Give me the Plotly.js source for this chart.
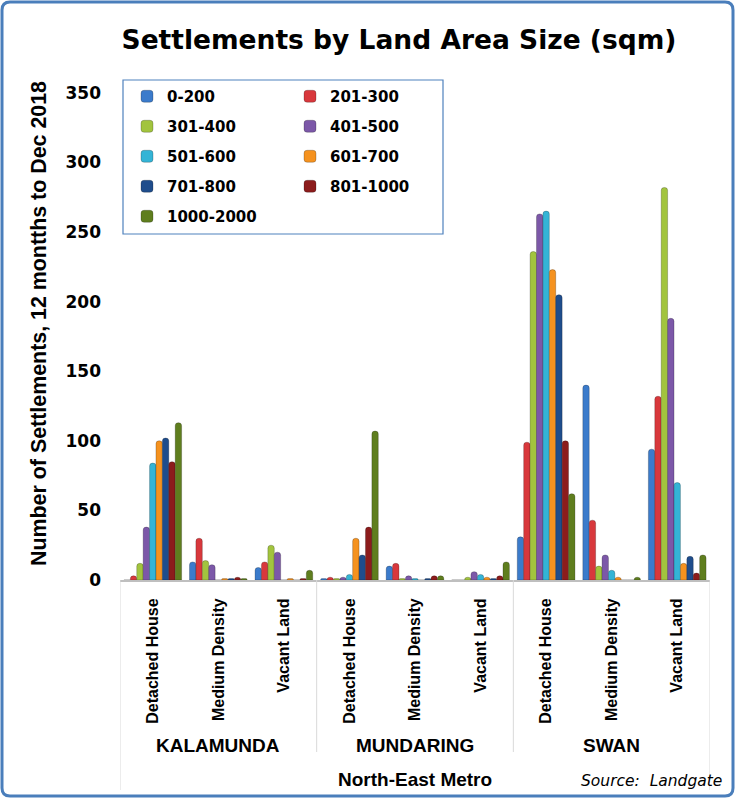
<!DOCTYPE html>
<html>
<head>
<meta charset="utf-8">
<script src="https://cdn.plot.ly/plotly-3.0.1.min.js"></script>
<style>
  html, body { margin: 0; padding: 0; background: #ffffff; }
  #chart { width: 735px; height: 798px; }
</style>
</head>
<body>
<div id="chart"></div>
<script>
// Categories: three local government areas, each split by dwelling type
const regions = ['KALAMUNDA', 'MUNDARING', 'SWAN'];
const dwellingTypes = ['Detached House', 'Medium Density', 'Vacant Land'];
const sizeBands = ['0-200', '201-300', '301-400', '401-500', '501-600',
                   '601-700', '701-800', '801-1000', '1000-2000'];

// Settlements per land-size band, ordered region by region
// (Detached House, Medium Density, Vacant Land within each region)
const band0to200     = [0,   13, 9,  1,   10, 0,  31,  140, 94];
const band201to300   = [3,   30, 13, 2,   12, 0,  99,  43,  132];
const band301to400   = [12,  14, 25, 1,   1,  2,  236, 10,  282];
const band401to500   = [38,  11, 20, 2,   3,  6,  263, 18,  188];
const band501to600   = [84,  0,  0,  4,   1,  4,  265, 7,   70];
const band601to700   = [100, 1,  1,  30,  0,  2,  223, 2,   12];
const band701to800   = [102, 1,  0,  18,  1,  1,  205, 0,   17];
const band801to1000  = [85,  2,  1,  38,  3,  3,  100, 0,   5];
const band1000to2000 = [113, 1,  7,  107, 3,  13, 62,  2,   18];

const bandValues = [band0to200, band201to300, band301to400, band401to500, band501to600,
                    band601to700, band701to800, band801to1000, band1000to2000];

const bandColors = ['#3b7bcb', '#d8383c', '#a2c43e', '#7c58a8', '#34b4d6',
                    '#f5921f', '#1f4d8c', '#8c1c1c', '#5f7e1e'];

// Tick labels along the x axis: dwelling type repeated for each region
const tickLabels = [];
regions.forEach(() => dwellingTypes.forEach(t => tickLabels.push(t)));
const xPos = tickLabels.map((_, i) => i);

// Plot-area frame in pixels, used to place decorations in paper units
const W = 735, H = 798;
const PL = 120, PR = 710, PT = 80, PB = 580;
const px = p => (p - PL) / (PR - PL);
const py = p => (PB - p) / (PB - PT);

const traces = sizeBands.map((band, i) => ({
  type: 'bar',
  name: band,
  x: xPos,
  y: bandValues[i],
  legend: i % 2 === 0 ? 'legend' : 'legend2',
  legendgroup: band,
  marker: {
    color: bandColors[i],
    line: { color: 'rgba(0,0,0,0.28)', width: 0.8 }
  },
  hovertemplate: band + ': %{y}<extra></extra>'
}));

const labelFont = { family: 'Liberation Sans, Arial, sans-serif', size: 19, color: '#000', weight: 700 };

const annotations = regions.map((r, i) => ({
  text: r, xref: 'x', yref: 'paper', x: i * 3 + 1, y: py(745),
  xanchor: 'center', yanchor: 'middle', showarrow: false, font: labelFont
}));
annotations.push({
  text: 'North-East Metro', xref: 'x', yref: 'paper', x: 4, y: py(779),
  xanchor: 'center', yanchor: 'middle', showarrow: false, font: labelFont
});
annotations.push({
  text: 'Source:  Landgate', xref: 'paper', yref: 'paper', x: px(724), y: py(781),
  xanchor: 'right', yanchor: 'middle', showarrow: false,
  font: { family: 'DejaVu Sans, sans-serif', size: 15.5, color: '#000', style: 'italic' }
});
// Vertical value-axis title
annotations.push({
  text: 'Number of Settlements, 12 montths to Dec 2018',
  xref: 'paper', yref: 'paper', x: px(39), y: py(324), textangle: -90,
  xanchor: 'center', yanchor: 'middle', showarrow: false,
  font: { family: 'Liberation Sans, Arial, sans-serif', size: 21.4, color: '#000', weight: 700 }
});

// Category dividers below the axis
const shapes = [-0.5, 2.5, 5.5, 8.5].map(b => ({
  type: 'line', xref: 'x', yref: 'paper', x0: b, x1: b,
  y0: 0, y1: (b === -0.5 || b === 8.5) ? py(790) : py(752),
  line: { color: '#d9d9d9', width: 1 }
}));
// Legend frame
shapes.push({
  type: 'rect', xref: 'paper', yref: 'paper',
  x0: px(123), x1: px(443), y0: py(80), y1: py(234),
  line: { color: '#4f81bd', width: 1.2 }, fillcolor: 'rgba(0,0,0,0)'
});
// Rounded outer border of the chart
(function () {
  const l = 2, r = 733, t = 2, b = 796, rad = 8;
  const X = v => px(v), Y = v => py(v);
  const rx = rad / (PR - PL), ry = rad / (PB - PT);
  const path = [
    'M', X(l + rad), Y(t),
    'L', X(r - rad), Y(t),
    'Q', X(r), Y(t), X(r), Y(t) - ry,
    'L', X(r), Y(b) + ry,
    'Q', X(r), Y(b), X(r) - rx, Y(b),
    'L', X(l) + rx, Y(b),
    'Q', X(l), Y(b), X(l), Y(b) + ry,
    'L', X(l), Y(t) - ry,
    'Q', X(l), Y(t), X(l) + rx, Y(t), 'Z'
  ].join(' ');
  shapes.push({ type: 'path', xref: 'paper', yref: 'paper', path: path,
                line: { color: '#4a7ebb', width: 3 }, fillcolor: 'rgba(0,0,0,0)' });
})();

const legendBase = {
  orientation: 'v', xanchor: 'left', yanchor: 'top',
  bgcolor: 'rgba(0,0,0,0)', borderwidth: 0, tracegroupgap: 7.5,
  font: { family: 'DejaVu Sans, sans-serif', size: 15, color: '#000', weight: 700 }
};

const layout = {
  width: W, height: H,
  margin: { l: PL, r: W - PR, t: PT, b: H - PB, pad: 0 },
  paper_bgcolor: '#ffffff', plot_bgcolor: '#ffffff',
  title: {
    text: 'Settlements by Land Area Size (sqm)',
    xref: 'container', yref: 'container', x: 399 / W, y: 1 - 40 / H,
    xanchor: 'center', yanchor: 'middle',
    font: { family: 'DejaVu Sans, sans-serif', size: 26.5, color: '#000', weight: 700 }
  },
  barmode: 'group', bargap: 0.12, bargroupgap: 0, barcornerradius: 3,
  xaxis: {
    type: 'linear', range: [-0.5, 8.5], tickmode: 'array',
    tickvals: xPos, ticktext: tickLabels, tickangle: -90,
    tickfont: { family: 'Liberation Sans, Arial, sans-serif', size: 16, color: '#000', weight: 700 },
    ticks: '', ticklabelstandoff: 10, showgrid: false, zeroline: false,
    showline: true, linecolor: '#bfbfbf', linewidth: 2, automargin: false, fixedrange: true
  },
  yaxis: {
    range: [0, (PB - PT) / 1.392], tick0: 0, dtick: 50,
    tickfont: { family: 'DejaVu Sans, sans-serif', size: 17, color: '#000', weight: 700 },
    ticks: '', ticklabelstandoff: 18, showgrid: false, zeroline: false, showline: false,
    automargin: false, fixedrange: true
  },
  legend: Object.assign({ x: px(127), y: py(80) }, legendBase),
  legend2: Object.assign({ x: px(290), y: py(80) }, legendBase),
  annotations: annotations,
  shapes: shapes,
  showlegend: true
};

Plotly.newPlot('chart', traces, layout, { displayModeBar: false, staticPlot: true });
</script>
</body>
</html>
